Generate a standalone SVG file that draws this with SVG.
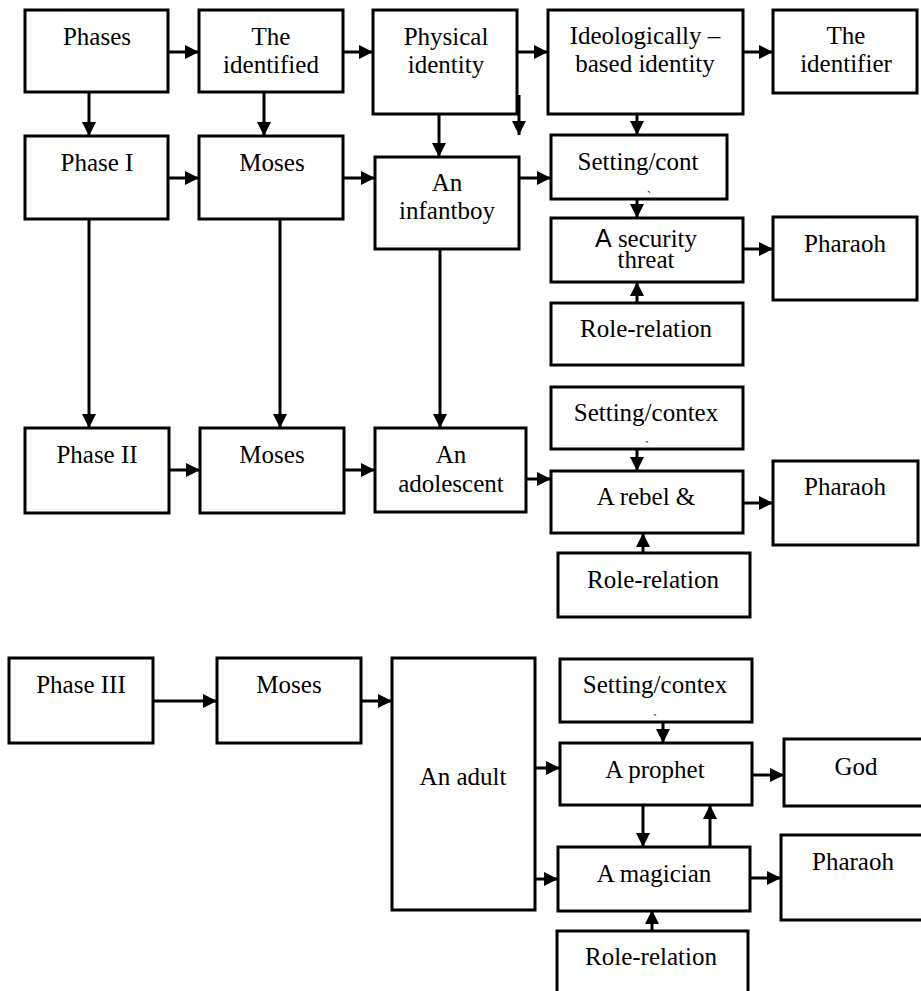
<svg xmlns="http://www.w3.org/2000/svg" width="921" height="991" viewBox="0 0 921 991">
<style>
.b{fill:#fff;stroke:#000;stroke-width:3}
.t text{font-size:25px;fill:#000;text-anchor:middle}
.s{font-family:'Liberation Sans',Arial,sans-serif}
.t text.m{font-size:12px}
.c line{stroke:#000;stroke-width:3;marker-end:url(#ah)}
</style>
<defs>
<marker id="ah" markerUnits="userSpaceOnUse" markerWidth="14" markerHeight="14" refX="14" refY="7" orient="auto" viewBox="0 0 14 14">
<path d="M0,0 L14,7 L0,14 z" fill="#000"/>
</marker>
</defs>
<rect width="921" height="991" fill="#fff"/>
<g id="connectors" class="c">
<line x1="168" y1="52" x2="199" y2="52"/>
<line x1="343" y1="52" x2="373" y2="52"/>
<line x1="517" y1="52" x2="548" y2="52"/>
<line x1="743" y1="52" x2="773" y2="52"/>
<line x1="89" y1="92" x2="89" y2="136"/>
<line x1="264" y1="92" x2="264" y2="136"/>
<line x1="439" y1="114" x2="439" y2="157"/>
<line x1="519" y1="95" x2="519" y2="135"/>
<line x1="637" y1="114" x2="637" y2="135"/>
<line x1="168" y1="178" x2="199" y2="178"/>
<line x1="343" y1="178" x2="375" y2="178"/>
<line x1="519" y1="178" x2="551" y2="178"/>
<line x1="637" y1="199" x2="637" y2="218"/>
<line x1="743" y1="249" x2="773" y2="249"/>
<line x1="637" y1="303" x2="637" y2="282"/>
<line x1="89" y1="219" x2="89" y2="428"/>
<line x1="280" y1="219" x2="280" y2="428"/>
<line x1="440" y1="249" x2="440" y2="428"/>
<line x1="169" y1="470" x2="200" y2="470"/>
<line x1="344" y1="470" x2="375" y2="470"/>
<line x1="526" y1="479" x2="551" y2="479"/>
<line x1="637" y1="449" x2="637" y2="471"/>
<line x1="743" y1="503" x2="773" y2="503"/>
<line x1="643" y1="553" x2="643" y2="533"/>
<line x1="153" y1="701" x2="217" y2="701"/>
<line x1="361" y1="701" x2="392" y2="701"/>
<line x1="663" y1="722" x2="663" y2="743"/>
<line x1="535" y1="768" x2="560" y2="768"/>
<line x1="752" y1="775" x2="784" y2="775"/>
<line x1="643" y1="805" x2="643" y2="847"/>
<line x1="710" y1="847" x2="710" y2="805"/>
<line x1="535" y1="879" x2="558" y2="879"/>
<line x1="750" y1="878" x2="781" y2="878"/>
<line x1="652" y1="931" x2="652" y2="910"/>
</g>
<g class="t" font-family="'Liberation Serif', 'Times New Roman', 'DejaVu Serif', serif">
<g id="phases"><rect class="b" x="25" y="10" width="143" height="82"/><text x="97" y="45">Phases</text></g>
<g id="identified"><rect class="b" x="199" y="10" width="144" height="82"/><text x="271" y="45">The</text><text x="271" y="73">identified</text></g>
<g id="physical"><rect class="b" x="373" y="10" width="144" height="104"/><text x="446" y="45">Physical</text><text x="446" y="73">identity</text></g>
<g id="ideological"><rect class="b" x="548" y="10" width="195" height="104"/><text x="645" y="44">Ideologically –</text><text x="645" y="72">based identity</text></g>
<g id="identifier"><rect class="b" x="773" y="10" width="144" height="83"/><text x="846" y="44">The</text><text x="846" y="72">identifier</text></g>
<g id="phase1"><rect class="b" x="25" y="136" width="143" height="83"/><text x="97" y="171">Phase I</text></g>
<g id="moses1"><rect class="b" x="199" y="136" width="144" height="83"/><text x="272" y="171">Moses</text></g>
<g id="infantboy"><rect class="b" x="375" y="157" width="144" height="92"/><text x="447" y="191">An</text><text x="447" y="219">infantboy</text></g>
<g id="setting1"><rect class="b" x="551" y="135" width="176" height="64"/><text x="638" y="170">Setting/cont</text><text class="m" x="649" y="190">ˏ</text></g>
<g id="security"><rect class="b" x="551" y="218" width="192" height="64"/><text x="646" y="247"><tspan class="s">A</tspan> security</text><text x="646" y="268">threat</text></g>
<g id="pharaoh1"><rect class="b" x="773" y="217" width="144" height="83"/><text x="845" y="252">Pharaoh</text></g>
<g id="role1"><rect class="b" x="551" y="303" width="192" height="62"/><text x="646" y="337">Role-relation</text></g>
<g id="setting2"><rect class="b" x="551" y="387" width="192" height="62"/><text x="646" y="421">Setting/contex</text><text class="m" x="647" y="440">ˏ</text></g>
<g id="phase2"><rect class="b" x="25" y="428" width="144" height="85"/><text x="97" y="463">Phase II</text></g>
<g id="moses2"><rect class="b" x="200" y="428" width="144" height="85"/><text x="272" y="463">Moses</text></g>
<g id="adolescent"><rect class="b" x="375" y="428" width="151" height="84"/><text x="451" y="463">An</text><text x="451" y="492">adolescent</text></g>
<g id="rebel"><rect class="b" x="551" y="471" width="192" height="62"/><text x="646" y="505">A rebel &amp;</text></g>
<g id="pharaoh2"><rect class="b" x="773" y="461" width="145" height="84"/><text x="845" y="495">Pharaoh</text></g>
<g id="role2"><rect class="b" x="558" y="553" width="192" height="64"/><text x="653" y="588">Role-relation</text></g>
<g id="phase3"><rect class="b" x="9" y="658" width="144" height="85"/><text x="81" y="693">Phase III</text></g>
<g id="moses3"><rect class="b" x="217" y="658" width="144" height="85"/><text x="289" y="693">Moses</text></g>
<g id="adult"><rect class="b" x="392" y="658" width="143" height="252"/><text x="463" y="785">An adult</text></g>
<g id="setting3"><rect class="b" x="560" y="659" width="192" height="63"/><text x="655" y="693">Setting/contex</text><text class="m" x="655" y="713">ˏ</text></g>
<g id="prophet"><rect class="b" x="560" y="743" width="192" height="62"/><text x="655" y="778">A prophet</text></g>
<g id="god"><rect class="b" x="784" y="739" width="150" height="67"/><text x="856" y="775">God</text></g>
<g id="magician"><rect class="b" x="558" y="847" width="192" height="64"/><text x="654" y="882">A magician</text></g>
<g id="pharaoh3"><rect class="b" x="781" y="835" width="150" height="85"/><text x="853" y="870">Pharaoh</text></g>
<g id="role3"><rect class="b" x="557" y="931" width="191" height="70"/><text x="651" y="965">Role-relation</text></g>
</g>
</svg>
